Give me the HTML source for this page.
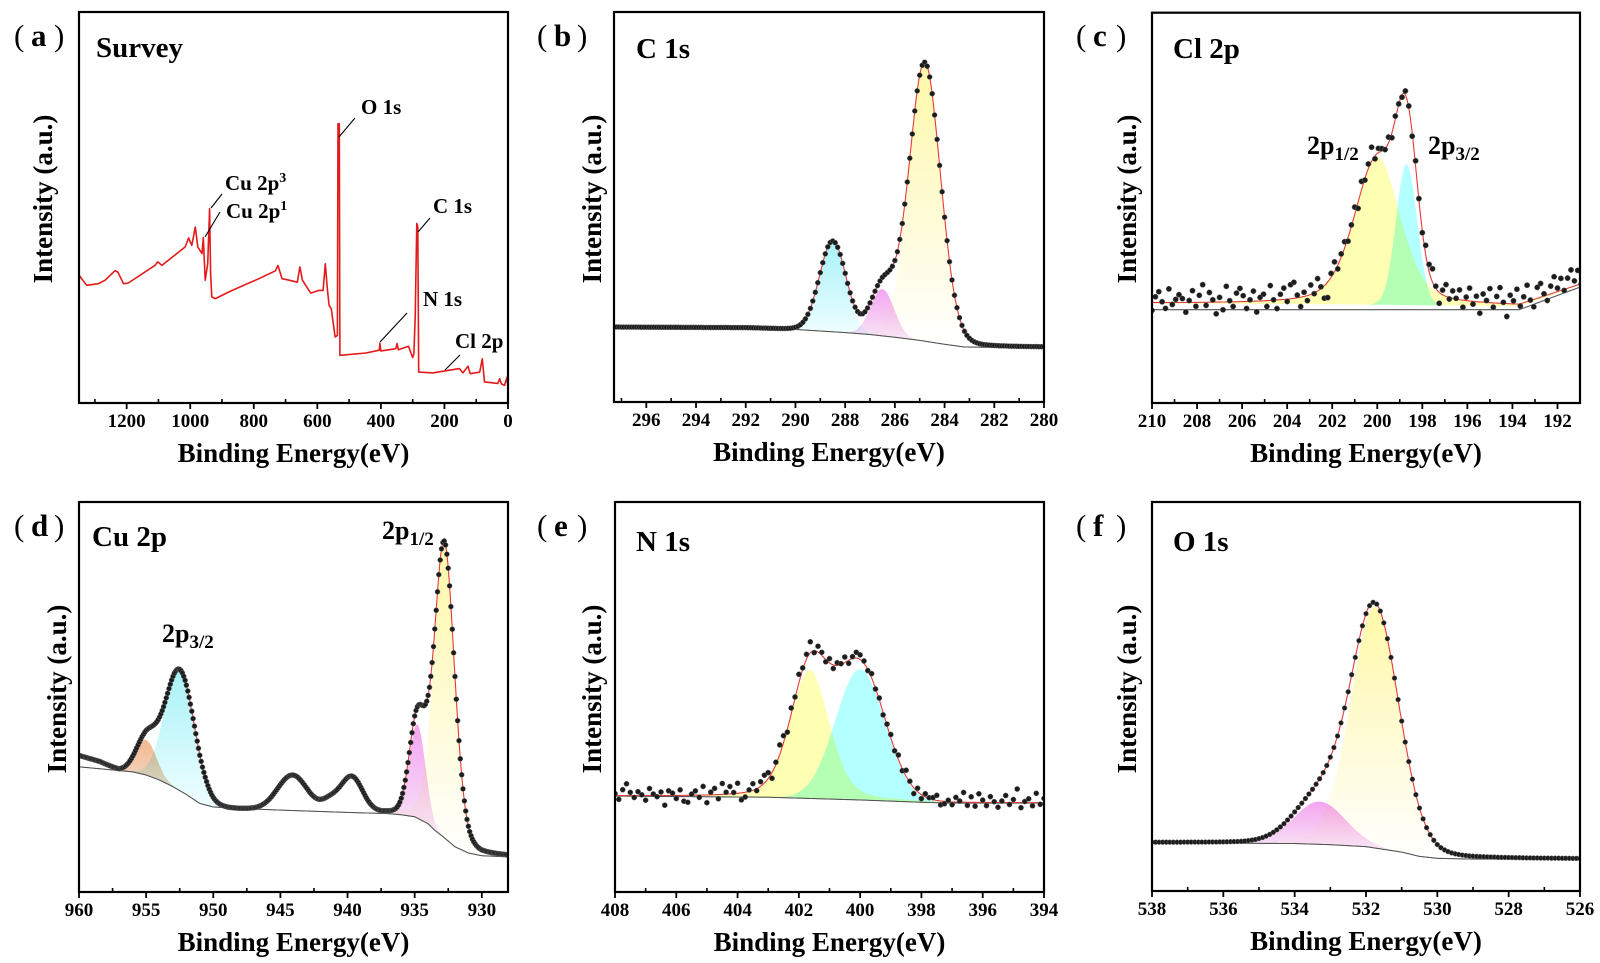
<!DOCTYPE html>
<html><head><meta charset="utf-8"><title>XPS spectra</title>
<style>
html,body{margin:0;padding:0;background:#fff;}
svg{display:block;font-family:"Liberation Serif","Noto Serif CJK SC",serif;}
.tk{font-size:19px;font-weight:bold;text-anchor:middle;}
.ttl{font-size:27px;font-weight:bold;text-anchor:middle;}
.pl{font-size:31px;font-weight:bold;}
.pp{font-size:31px;font-weight:normal;}
.nm{font-size:29px;font-weight:bold;}
.an{font-size:21px;font-weight:bold;}
.pk{font-size:26px;font-weight:bold;}
.fill{mix-blend-mode:multiply;}
</style></head>
<body>
<svg id="fig" width="1600" height="963" viewBox="0 0 1600 963" xmlns="http://www.w3.org/2000/svg">
<defs id="defs"></defs>
</svg>
<script>
// ---------- Survey (a) data ----------
const surveyBE = [1350,1326,1289,1268,1237,1228,1210,1195,1111,1102,1089,1016,1005,995,984,976,963,959,953,945,939,936,932,921,868,784,732,724,711,689,663,655,647,621,595,582,575,568,563,556,544,537,535,531,529,447,405,403,400,353,349,345,313,300,296,292,287,284,281,237,153,142,126,119,89,81,74,32,26,21,11,3,0];
const surveyI = [32.7,30.1,30.5,31.4,33.8,33.5,30.5,30.7,35.2,36.1,35.2,39.9,42.2,40.3,45.0,39.9,38.2,42.3,31.4,35.6,49.7,33.1,27.1,26.7,28.8,31.8,33.8,35.2,31.8,31.4,30.9,34.8,31.4,28.1,28.8,28.8,35.6,28.8,25.0,24.1,16.9,17.3,71.4,71.4,12.2,12.8,13.5,15.3,13.3,13.9,15.2,13.6,14.5,11.6,12.6,22.0,45.9,45.0,7.9,7.7,8.8,7.7,9.4,7.5,7.9,11.3,5.4,5.0,6.2,4.9,4.5,6.6,3.7];
const surveyTicks = [1200,1000,800,600,400,200,0];

// ---------- C 1s (b) ----------
const bTicks = [296,294,292,290,288,286,284,282,280];
const bBgX = [297.3,292,290,288,287,286,285,284,283.2,282,280];
const bBgY = [19.2,19.0,18.6,17.8,17.3,16.6,15.8,14.8,14.1,14.0,14.0];
const bCenters = [288.5,286.5,284.8];
const bHeights = [23,12,71.5];
const bWidths = [1.25,1.1,1.5];
const bEta = [0,0,0.1];

// ---------- Cl 2p (c) ----------
const cTicks = [210,208,206,204,202,200,198,196,194,192];
const cBgX = [210,202,197,193.7,191];
const cBgY = [25.5,25.3,25.0,24.8,30.2];
const cLineX = [210,193.7,191];
const cLineY = [23.9,23.9,29.7];
const cCenters = [200.0,198.7];
const cHeights = [38,36];
const cWidths = [2.4,1.1];
const cEta = [0.4,0];
const cResid = [-2,1.5,2.8,0.2,-1.5,3.5,-0.5,0.8,2,1,-2.5,0.5,3,-1,1.8,4.5,-0.8,2.5,0.6,-3,1.2,-2,4,0.3,-1.2,2.2,3.4,1.5,-1.8,0.4,2.6,-2.8,0.9,1.7,-1.5,3.8,0.1,-2.2,1.4,2.9,-0.6,3.6,4.1,0.7,-2.4,1.1,-1.3,2.4,-0.2,3.2,0.5,-3.2,-4,1,2.5,-1,0.8,1.6,-0.9,0.4,1.9,-1.6,2.2,-0.4,1.2,3.5,-0.8,1.1,0.6,-0.3,1.5,-1.2,0.8,0.2,-0.6,1,0.5,-0.8,1.3,0.4,-0.5,2.4,1.8,3.4,0.6,-2.8,1.2,3,-0.4,1.9,0.2,2.5,-1.8,0.9,3.3,-0.7,1.4,-2.9,2.1,0.5,3.6,-1.1,1.7,4,0.3,-3.3,2.2,0.8,3.8,-0.6,1.5,4.2,0.1,-1.9,2.8,3.5,0.6,-1.4,2,4.1,0.9,3.1,-0.3,2.6,4.4,1.3,3.7];

// ---------- Cu 2p (d) ----------
const dTicks = [960,955,950,945,940,935,930];
const dBgX = [960,958.5,957,956,955,954,953,952,951,950,948,945,940,937,936,935,934,933.5,933,932,931,930,928];
const dBgY = [35,33.5,31.3,30.8,30,28.7,27,25,22.7,21.8,21.4,21,20.4,20.1,19.8,19.3,17.5,15.8,14.5,11.6,10,9.3,9.0];
const dLineX = [960,956,955,954,953,952,951,950,948,945,940,937,936,935,934,933.5,933,932,931,930,928];
const dLineY = [32.1,30.8,30,28.7,27,25,22.7,21.8,21.4,21,20.4,20.1,19.8,19.3,17.5,15.8,14.5,11.6,10,9.3,9.0];
const dCenters = [955,952.5,944.1,941.3,939.7,934.8,932.8];
const dHeights = [9,31,9,2.5,9,24,76];
const dWidths = [1.8,2.6,2.6,1.5,1.9,1.4,1.8];
const dEta = [0,0,0,0,0,0,0.2];

// ---------- N 1s (e) ----------
const eTicks = [408,406,404,402,400,398,396,394];
const eBgX = [408,403,400,398,397,394];
const eBgY = [24.6,24.3,23.6,23.0,22.8,22.8];
const eCenters = [401.65,400.0];
const eHeights = [33,33.5];
const eWidths = [1.5,1.9];
const eEta = [0.3,0];
const eResid = [0.5,-1,1.5,3,0.8,-0.5,1,0.2,-1.2,1.8,0.4,-0.3,0.9,-2.5,1.2,0.6,-0.8,1.4,-1.5,-1.8,0.3,1.1,-0.6,2.2,-2,0.7,1.6,-1.1,2.8,0.5,1.9,0.3,2.6,-1.8,-1.2,0.4,1.7,-0.5,1.2,2,1.5,-1.5,0.6,2.5,1.8,-0.8,1.5,0.3,2.2,0.4,1.2,2.8,-0.5,1.5,0.8,-0.6,1.1,-0.9,0.7,0.2,1.4,-0.8,0.5,1.5,1.2,0.6,-0.3,1.1,-0.2,0.5,-0.6,0.3,0.8,-0.4,1.2,-0.5,1.6,0.4,-1.5,0.9,-1,0.8,0.2,0.5,1.3,-1,-0.6,0.4,-0.7,1.2,0.3,2.5,-0.8,1.4,-1,2.2,0.6,-0.8,1.5,0.2,-1.2,0.4,1.8,-0.5,0.8,3.5,-1.3,0.3,1,-0.8,2.4,-0.4,1.1];

// ---------- O 1s (f) ----------
const fTicks = [538,536,534,532,530,528,526];
const fBgX = [538,534,533,532,531,530.5,530,529,526];
const fBgY = [12.4,12.2,11.9,11.4,10.0,8.9,8.4,8.2,8.2];
const fCenters = [533.3,531.75];
const fHeights = [11,62];
const fWidths = [1.7,1.6];
const fEta = [0,0.15];

const NS = "http://www.w3.org/2000/svg";
const svg = document.getElementById('fig');
const defs = document.getElementById('defs');
function mk(tag, attrs, parent){const e=document.createElementNS(NS,tag);for(const k in attrs)e.setAttribute(k,attrs[k]);(parent||svg).appendChild(e);return e;}
function interp(xs, ys, x){
  for(let i=0;i<xs.length-1;i++){
    const a=xs[i],b=xs[i+1];
    if((x<=a&&x>=b)||(x>=a&&x<=b)){const t=(x-a)/(b-a||1);return ys[i]+t*(ys[i+1]-ys[i]);}
  }
  return Math.abs(x-xs[0])<Math.abs(x-xs[xs.length-1])?ys[0]:ys[ys.length-1];
}
function pv(x,c,h,w,eta){const d=(x-c)*(x-c)/(w*w);return h*((1-eta)*Math.exp(-4*Math.LN2*d)+eta/(1+4*d));}

function frame(L,R,T,B,x0,x1,name){
  const g=mk('g',{});
  
  
  const sx=be=>L+(x0-be)/(x0-x1)*(R-L);
  const sy=v=>B-v/100*(B-T);
  const cid='clip-'+name;
  const cp=mk('clipPath',{id:cid},defs);mk('rect',{x:L,y:T,width:R-L,height:B-T},cp);
  const plot=mk('g',{'clip-path':'url(#'+cid+')'},g);
  
  
  return {g,plot,sx,sy,L,R,T,B};
}
function axes(f,ticks,minorStep,name,x0,x1){
  const {g,sx,L,R,T,B}=f;
  const box=mk('rect',{x:L,y:T,width:R-L,height:B-T,fill:'none',stroke:'#000','stroke-width':2.2},g);
  
  
  const lo=Math.min(x0,x1),hi=Math.max(x0,x1);
  const start=Math.ceil(lo/minorStep)*minorStep;
  for(let v=start; v<=hi+1e-9; v+=minorStep){
    const isMajor=ticks.some(t=>Math.abs(t-v)<1e-6);
    if(isMajor) continue;
    const X=sx(v);
    const m=mk('line',{x1:X,x2:X,y1:B,y2:B-4,stroke:'#000','stroke-width':1.6},g);
    
    
  }
  ticks.forEach(t=>{
    const X=sx(t);
    const l=mk('line',{x1:X,x2:X,y1:B,y2:B+6,stroke:'#000','stroke-width':1.8},g);
    
    
    const tx=mk('text',{x:X,y:B+24,class:'tk'},g);
    tx.textContent=t;
    
    
  });
  const xt=mk('text',{x:(L+R)/2,y:B+59,class:'ttl'},g);
  xt.textContent='Binding Energy(eV)';
  
  
}
function yTitle(x,cy,name){
  const t=mk('text',{x:0,y:0,class:'ttl',transform:'translate('+x+','+cy+') rotate(-90)','dominant-baseline':'central'});
  t.textContent='Intensity (a.u.)';
  
  
}
function label(txt,x,y,cls,name){
  const t=mk('text',{x:x,y:y,class:cls});
  t.textContent=txt;
  
  
  return t;
}
function panelLabel(letter,x,y){
  const g=mk('g',{});
  
  
  const o=mk('text',{x:x+10,y:y,class:'pp'},g);o.textContent='(';
  const l=mk('text',{x:x+27,y:y,class:'pl'},g);l.textContent=letter;
  const c=mk('text',{x:x+50,y:y,class:'pp'},g);c.textContent=')';
}
function gradient(id,color,bottom){
  const lg=mk('linearGradient',{id:id,x1:0,y1:0,x2:0,y2:1},defs);
  mk('stop',{offset:'0','stop-color':color},lg);
  mk('stop',{offset:'1','stop-color':bottom},lg);
}
gradient('gY','#fff8a8','#ffffff');
gradient('gC','#a8f2f8','#f0feff');
gradient('gM','#f4a4f0','#f8e8f8');
gradient('gO','#f2b890','#f4dcc8');

function fitPanel(f,name,x0,x1,bgX,bgY,lineX,lineY,C,H,W,E,fills,dotStep,resid,dotR){
  const {plot,sx,sy}=f;
  const bg=x=>interp(bgX,bgY,x);
  const env=x=>{let s=bg(x);for(let k=0;k<C.length;k++)s+=pv(x,C[k],H[k],W[k],E[k]);return s;};
  const n=Math.round(Math.abs(x0-x1)/0.02);
  const xs=[];for(let i=0;i<=n;i++)xs.push(x0+(x1-x0)*i/n);
  for(let k=0;k<C.length;k++){
    if(!fills[k]) continue;
    let top=[],bot=[];
    xs.forEach(x=>{const p=pv(x,C[k],H[k],W[k],E[k]);if(p>0.08){top.push([sx(x),sy(bg(x)+p)]);bot.push([sx(x),sy(bg(x))]);}});
    if(!top.length) continue;
    const d='M'+top.map(p=>p[0].toFixed(1)+','+p[1].toFixed(1)).join('L')+'L'+bot.reverse().map(p=>p[0].toFixed(1)+','+p[1].toFixed(1)).join('L')+'Z';
    const pth=mk('path',{d:d,fill:fills[k],class:'fill'},plot);
    
    
  }
  const lx=lineX||bgX, ly=lineY||bgY;
  const bl=mk('path',{d:'M'+xs.map(x=>sx(x).toFixed(1)+','+sy(interp(lx,ly,x)).toFixed(1)).join('L'),fill:'none',stroke:'#555','stroke-width':1.1},plot);
  
  
  const ev=mk('path',{d:'M'+xs.map(x=>sx(x).toFixed(1)+','+sy(env(x)).toFixed(1)).join('L'),fill:'none',stroke:'#e53a3a','stroke-width':1.1},plot);
  
  
  const dg=mk('g',{},plot);
  
  
  const nd=Math.round(Math.abs(x0-x1)/dotStep);
  const dir=x1<x0?-1:1;
  for(let i=0;i<=nd;i++){
    const x=x0+dir*i*dotStep;
    const v=env(x)+((resid&&resid[i])||0);
    const c=mk('circle',{cx:sx(x).toFixed(1),cy:sy(v).toFixed(1),r:dotR,fill:'#1c1c1c',stroke:'#666','stroke-width':0.5},dg);
    
    
  }
}

// ===== Panel (a) Survey =====
(function(){
  const f=frame(79,508,12,403,1350,0,'survey-panel');
  const {plot,sx,sy}=f;
  const p=mk('path',{d:'M'+surveyBE.map((b,i)=>sx(b).toFixed(1)+','+sy(surveyI[i]).toFixed(1)).join('L'),fill:'none',stroke:'#e31a1a','stroke-width':1.6,'stroke-linejoin':'round'},plot);
  
  
  axes(f,surveyTicks,100,'survey',1350,0);
  yTitle(43,199,'survey');
  panelLabel('a',4,46);
  label('Survey',96,57,'nm','survey-title');
  const ann=[['O 1s',361,114,339,137,355,118],['C 1s',433,213,418,232,430,218],['N 1s',423,306,380,342,407,313],['Cl 2p',455,348,445,370,460,355]];
  ann.forEach(a=>{
    const l=mk('line',{x1:a[3],y1:a[4],x2:a[5],y2:a[6],stroke:'#000','stroke-width':1.1});
    
    
    label(a[0],a[1],a[2],'an','peak-annotation');
  });
  const l1=mk('line',{x1:211,y1:208,x2:222,y2:194,stroke:'#000','stroke-width':1.1});
  
  
  const l2=mk('line',{x1:205,y1:237,x2:220,y2:212,stroke:'#000','stroke-width':1.1});
  
  
  const t1=label('Cu 2p',225,190,'an','cu-2p3-annotation');
  const s1=mk('tspan',{'font-size':'14','dy':'-8'},t1);s1.textContent='3';
  const t2=label('Cu 2p',226,218,'an','cu-2p1-annotation');
  const s2=mk('tspan',{'font-size':'14','dy':'-8'},t2);s2.textContent='1';
})();

// ===== Panel (b) C 1s =====
(function(){
  const f=frame(614,1044,12,402,297.3,280,'c1s-panel');
  fitPanel(f,'c1s',297.3,280,bBgX,bBgY,null,null,bCenters,bHeights,bWidths,bEta,['url(#gC)','url(#gM)','url(#gY)'],0.1,null,2.5);
  axes(f,bTicks,1,'c1s',297.3,280);
  yTitle(592,199,'c1s');
  panelLabel('b',527,46);
  label('C 1s',636,58,'nm','c1s-title');
})();

// ===== Panel (c) Cl 2p =====
(function(){
  const f=frame(1152,1580,12.7,403,210,191,'cl2p-panel');
  fitPanel(f,'cl2p',210,191,cBgX,cBgY,cLineX,cLineY,cCenters,cHeights,cWidths,cEta,['#ffffb4','#b4ffff'],0.15,cResid,2.7);
  axes(f,cTicks,1,'cl2p',210,191);
  yTitle(1127,199,'cl2p');
  panelLabel('c',1066,46);
  label('Cl 2p',1173,58,'nm','cl2p-title');
  const a=label('2p',1307,154,'pk','cl-2p12-label');
  const s=mk('tspan',{'font-size':'19','dy':'6'},a);s.textContent='1/2';
  const b=label('2p',1428,154,'pk','cl-2p32-label');
  const s2=mk('tspan',{'font-size':'19','dy':'6'},b);s2.textContent='3/2';
})();

// ===== Panel (d) Cu 2p =====
(function(){
  const f=frame(79,508,502,892,960,928.05,'cu2p-panel');
  fitPanel(f,'cu2p',960,928.05,dBgX,dBgY,dLineX,dLineY,dCenters,dHeights,dWidths,dEta,['url(#gO)','url(#gC)',null,null,null,'url(#gM)','url(#gY)'],0.1,null,2.5);
  axes(f,dTicks,2.5,'cu2p',960,928.05);
  yTitle(57,689,'cu2p');
  panelLabel('d',4,536);
  label('Cu 2p',92,546,'nm','cu2p-title');
  const a=label('2p',382,539,'pk','cu-2p12-label');
  const s=mk('tspan',{'font-size':'19','dy':'6'},a);s.textContent='1/2';
  const b=label('2p',162,642,'pk','cu-2p32-label');
  const s2=mk('tspan',{'font-size':'19','dy':'6'},b);s2.textContent='3/2';
})();

// ===== Panel (e) N 1s =====
(function(){
  const f=frame(615,1044,502,892,408,394,'n1s-panel');
  fitPanel(f,'n1s',408,394,eBgX,eBgY,null,null,eCenters,eHeights,eWidths,eEta,['#ffffb4','#b4ffff'],0.125,eResid,2.6);
  axes(f,eTicks,1,'n1s',408,394);
  yTitle(592,689,'n1s');
  panelLabel('e',527,536);
  label('N 1s',636,551,'nm','n1s-title');
})();

// ===== Panel (f) O 1s =====
(function(){
  const f=frame(1152,1580,502,891,538,526,'o1s-panel');
  fitPanel(f,'o1s',538,526,fBgX,fBgY,null,null,fCenters,fHeights,fWidths,fEta,['url(#gM)','url(#gY)'],0.1,null,2.4);
  axes(f,fTicks,1,'o1s',538,526);
  yTitle(1127,689,'o1s');
  panelLabel('f',1066,536);
  label('O 1s',1173,551,'nm','o1s-title');
})();
</script>
</body></html>
